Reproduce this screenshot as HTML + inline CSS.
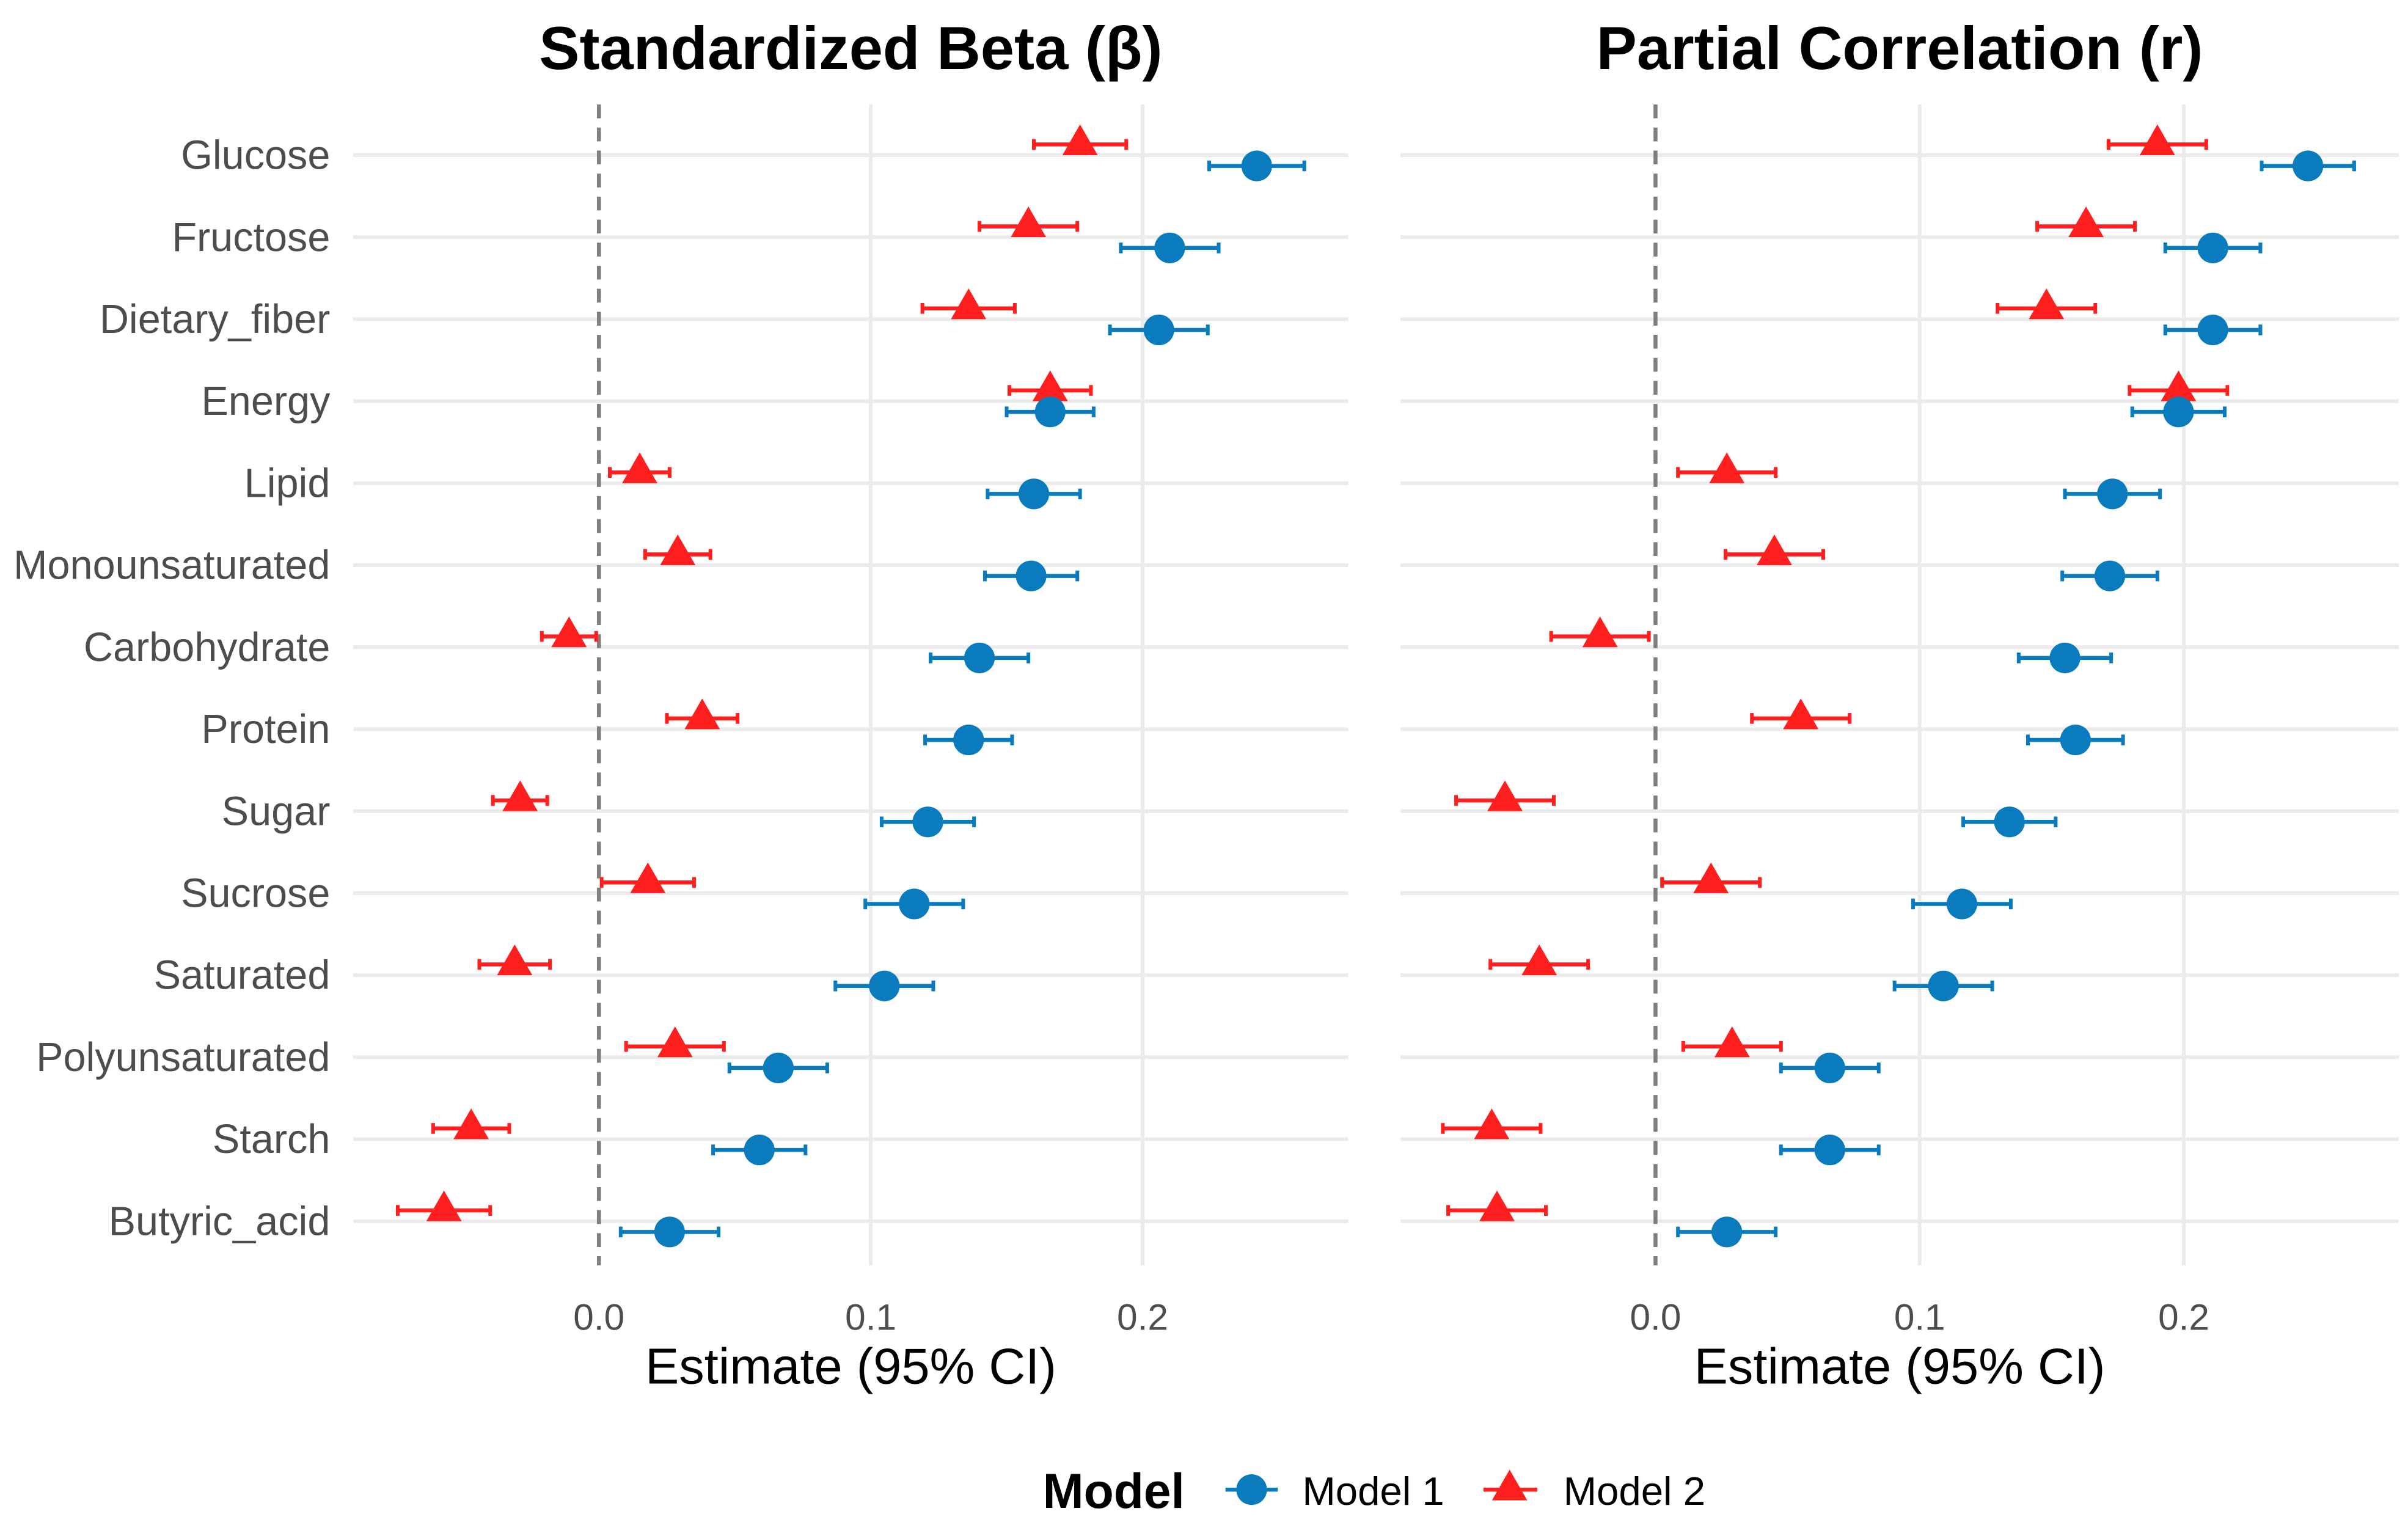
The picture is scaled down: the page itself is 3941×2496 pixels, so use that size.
<!DOCTYPE html>
<html><head><meta charset="utf-8"><style>
html,body{margin:0;padding:0;background:#fff;}
svg{display:block;}
text{font-family:"Liberation Sans",sans-serif;}
</style></head><body>
<svg id="chart" width="3941" height="2496" viewBox="0 0 1568 993" xmlns="http://www.w3.org/2000/svg"></svg>
<script>
const categories = ["Glucose","Fructose","Dietary_fiber","Energy","Lipid","Monounsaturated","Carbohydrate","Protein","Sugar","Sucrose","Saturated","Polyunsaturated","Starch","Butyric_acid"];
const betaModel1 = [0.242,0.210,0.206,0.166,0.160,0.159,0.140,0.136,0.121,0.116,0.105,0.066,0.059,0.026];
const betaModel1Half = [0.0175,0.018,0.018,0.016,0.017,0.017,0.018,0.016,0.017,0.018,0.018,0.018,0.017,0.018];
const betaModel2 = [0.177,0.158,0.136,0.166,0.015,0.029,-0.011,0.038,-0.029,0.018,-0.031,0.028,-0.047,-0.057];
const betaModel2Half = [0.017,0.018,0.017,0.015,0.011,0.012,0.010,0.013,0.010,0.017,0.013,0.018,0.014,0.017];
const corrModel1 = [0.247,0.211,0.211,0.198,0.173,0.172,0.155,0.159,0.134,0.116,0.109,0.066,0.066,0.027];
const corrModel1Half = [0.0175,0.018,0.018,0.0175,0.018,0.018,0.0175,0.018,0.0175,0.0185,0.0185,0.0185,0.0185,0.0185];
const corrModel2 = [0.190,0.163,0.148,0.198,0.027,0.045,-0.021,0.055,-0.057,0.021,-0.044,0.029,-0.062,-0.060];
const corrModel2Half = [0.0185,0.0185,0.0185,0.0185,0.0185,0.0185,0.0185,0.0185,0.0185,0.0185,0.0185,0.0185,0.0185,0.0185];
const tickValues = [0.0,0.1,0.2];
const tickLabels = ["0.0","0.1","0.2"];

const NS="http://www.w3.org/2000/svg";
const svg=document.getElementById('chart');
const BLUE="#0a7bbd", RED="#ff1f1f";
function mk(tag,attrs,parent){const e=document.createElementNS(NS,tag);for(const k in attrs)e.setAttribute(k,attrs[k]);(parent||svg).appendChild(e);return e;}
function yRow(i){return 101+i*53.4;}

function panel(opts){
  const g=mk('g',{});
  
  
  const xs=v=>opts.x0+v*opts.scale;
  categories.forEach((c,i)=>{
    const l=mk('line',{x1:opts.left,x2:opts.right,y1:yRow(i),y2:yRow(i),stroke:"#ebebeb","stroke-width":2.4},g);
    
    
  });
  tickValues.forEach((t,k)=>{
    if(t!==0){
      const l=mk('line',{x1:xs(t),x2:xs(t),y1:68,y2:824,stroke:"#ebebeb","stroke-width":2.4},g);
      
      
    }
    const tx=mk('text',{x:xs(t),y:866,"text-anchor":"middle","font-size":24,fill:"#4d4d4d"},g);
    tx.textContent=tickLabels[k];
    
    
  });
  const z=mk('line',{x1:xs(0),x2:xs(0),y1:68,y2:824,stroke:"#7f7f7f","stroke-width":2.6,"stroke-dasharray":"9,6"},g);
  
  
  function series(vals,half,color,dy,shape,sname){
    vals.forEach((v,i)=>{
      const y=yRow(i)+dy;
      const sg=mk('g',{},g);
      
      
      const lo=xs(v-half[i]), hi=xs(v+half[i]);
      mk('line',{x1:lo,x2:hi,y1:y,y2:y,stroke:color,"stroke-width":2.6},sg);
      mk('line',{x1:lo,x2:lo,y1:y-3.5,y2:y+3.5,stroke:color,"stroke-width":2.4},sg);
      mk('line',{x1:hi,x2:hi,y1:y-3.5,y2:y+3.5,stroke:color,"stroke-width":2.4},sg);
      if(shape==='c') mk('circle',{cx:xs(v),cy:y,r:10,fill:color},sg);
      else { const cx=xs(v); mk('polygon',{points:`${cx},${y-13} ${cx-11.5},${y+7} ${cx+11.5},${y+7}`,fill:color},sg); }
    });
  }
  series(opts.m2,opts.m2h,RED,-7,'t','model2-point');
  series(opts.m1,opts.m1h,BLUE,7,'c','model1-point');
  const tt=mk('text',{x:opts.titleX,y:45,"text-anchor":"middle","font-size":39.5,"font-weight":"bold",fill:"#000"},g);
  tt.textContent=opts.title;
  
  
  const at=mk('text',{x:opts.axisX,y:901,"text-anchor":"middle","font-size":33,fill:"#000"},g);
  at.textContent="Estimate (95% CI)";
  
  
}

categories.forEach((c,i)=>{
  const t=mk('text',{x:215,y:yRow(i)+9,"text-anchor":"end","font-size":26.5,fill:"#4d4d4d"});
  t.textContent=c;
  
  
});

panel({name:'beta-panel',x0:390,scale:1770,left:230,right:878,m1:betaModel1,m1h:betaModel1Half,m2:betaModel2,m2h:betaModel2Half,title:"Standardized Beta (β)",titleX:554,axisX:554});
panel({name:'correlation-panel',x0:1078,scale:1720,left:912,right:1562,m1:corrModel1,m1h:corrModel1Half,m2:corrModel2,m2h:corrModel2Half,title:"Partial Correlation (r)",titleX:1237,axisX:1237});

const lg=mk('g',{});


const lt=mk('text',{x:679,y:982,"font-size":32,"font-weight":"bold",fill:"#000"},lg);
lt.textContent="Model";


const e1=mk('g',{},lg);


mk('line',{x1:798,x2:832,y1:970,y2:970,stroke:BLUE,"stroke-width":2.6},e1);
mk('circle',{cx:815,cy:970,r:10,fill:BLUE},e1);
const t1=mk('text',{x:848,y:980,"font-size":26,fill:"#000"},e1);t1.textContent="Model 1";
const e2=mk('g',{},lg);


mk('line',{x1:966,x2:1001,y1:970,y2:970,stroke:RED,"stroke-width":2.6},e2);
mk('polygon',{points:"983,957 971.5,977 994.5,977",fill:RED},e2);
const t2=mk('text',{x:1018,y:980,"font-size":26,fill:"#000"},e2);t2.textContent="Model 2";
</script>
</body></html>
